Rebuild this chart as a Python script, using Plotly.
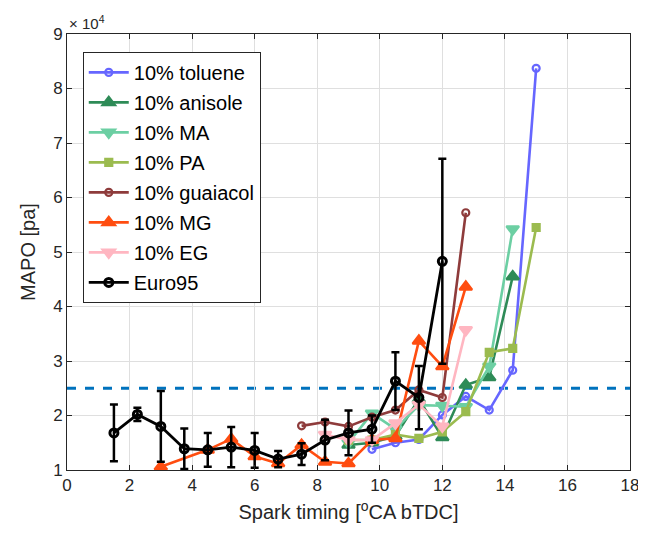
import plotly.graph_objects as go

# Spark timing [°CA bTDC] and MAPO [pa]
tol_x = [9.75, 10.5, 11.25, 12.0, 12.75, 13.5, 14.25, 15.0]
tol_y = [13800, 15000, 15600, 20100, 23500, 21000, 28300, 83700]

ani_x = [9.0, 9.75, 10.5, 11.25, 12.0, 12.75, 13.5, 14.25]
ani_y = [14600, 15000, 16200, 23000, 16000, 25600, 27000, 45500]

ma_x = [9.0, 9.75, 10.5, 11.25, 12.0, 12.75, 13.5, 14.25]
ma_y = [15000, 20400, 17500, 21900, 21800, 21600, 29000, 54200]

pa_x = [9.0, 9.75, 10.5, 11.25, 12.0, 12.75, 13.5, 14.25, 15.0]
pa_y = [15500, 15500, 16500, 15800, 17000, 20700, 31600, 32300, 54500]

gua_x = [7.5, 8.25, 9.0, 9.75, 10.5, 11.25, 12.0, 12.75]
gua_y = [18100, 18800, 18000, 19700, 21000, 24700, 23300, 57200]

mg_x = [3.0, 4.5, 5.25, 6.0, 6.75, 7.5, 8.25, 9.0, 9.75, 10.5, 11.25, 12.0, 12.75]
mg_y = [10600, 13700, 15700, 12500, 11200, 14600, 11500, 11200, 15500, 15800, 33700, 29000, 43600]

eg_x = [8.25, 9.0, 9.75, 10.5, 11.25, 12.0, 12.75]
eg_y = [16500, 15500, 15500, 18600, 22000, 18000, 35700]

e95_x = [1.5, 2.25, 3.0, 3.75, 4.5, 5.25, 6.0, 6.75, 7.5, 8.25, 9.0, 9.75, 10.5, 11.25, 12.0]
e95_y = [16800, 20200, 18000, 13900, 13700, 14200, 13600, 12000, 12900, 15500, 16800, 17500, 26300, 23300, 48300]
e95_err = [5200, 1200, 6500, 3700, 3100, 3700, 3200, 1500, 2000, 3700, 4100, 2500, 5300, 5800, 18800]

THRESHOLD = 25000
x_ticks = [0, 2, 4, 6, 8, 10, 12, 14, 16, 18]
y_tickvals = [10000, 20000, 30000, 40000, 50000, 60000, 70000, 80000, 90000]
y_ticktext = ["1", "2", "3", "4", "5", "6", "7", "8", "9"]

series = [
    ("10% toluene", tol_x, tol_y, "#6666ff", "circle-open", 7),
    ("10% anisole", ani_x, ani_y, "#2e8b57", "triangle-up", 11),
    ("10% MA", ma_x, ma_y, "#6ccfa3", "triangle-down", 11),
    ("10% PA", pa_x, pa_y, "#9bbb4f", "square", 7),
    ("10% guaiacol", gua_x, gua_y, "#8e3b3b", "circle-open", 7),
    ("10% MG", mg_x, mg_y, "#ff4d10", "triangle-up", 11),
    ("10% EG", eg_x, eg_y, "#ffb6c1", "triangle-down", 11),
]

FONT = "Liberation Sans, Arial, sans-serif"

fig = go.Figure()
for i, (name, xs, ys, col, sym, sz) in enumerate(series):
    fig.add_trace(go.Scatter(
        x=xs, y=ys, name=name, mode="lines+markers",
        line=dict(color=col, width=2.6),
        marker=dict(symbol=sym, size=sz, color=col, line=dict(color=col, width=2.2)),
        legendgroup="g%d" % i,
    ))

fig.add_trace(go.Scatter(
    x=e95_x, y=e95_y, name="Euro95", mode="lines+markers",
    line=dict(color="black", width=2.8),
    marker=dict(symbol="circle-open", size=8, color="black", line=dict(color="black", width=3)),
    error_y=dict(type="data", array=e95_err, visible=True, color="black", thickness=2.5, width=4),
    legendgroup="g7",
))

fig.add_shape(type="line", xref="x", yref="y", x0=0, x1=18, y0=THRESHOLD, y1=THRESHOLD,
              line=dict(color="#0072bd", width=3, dash="dash"), layer="below")

axis_common = dict(showline=True, linecolor="#262626", linewidth=1, mirror="allticks",
                   ticks="inside", ticklen=5, tickcolor="#262626", showgrid=True,
                   gridcolor="#dfdfdf", gridwidth=1, zeroline=False,
                   ticklabeloverflow="allow", automargin=False,
                   tickfont=dict(family=FONT, size=17, color="#262626"))

fig.update_layout(
    width=630, height=520,
    margin=dict(l=59, r=8, t=26, b=58),
    paper_bgcolor="white", plot_bgcolor="white",
    font=dict(family=FONT, size=17, color="#262626"),
    xaxis=dict(range=[0, 18], tickvals=x_ticks,
               title=dict(text="Spark timing [<sup>o</sup>CA bTDC]", font=dict(size=20), standoff=10),
               **axis_common),
    yaxis=dict(range=[10000, 90000], tickvals=y_tickvals, ticktext=y_ticktext,
               title=dict(text="MAPO [pa]", font=dict(size=20), standoff=12),
               **axis_common),
    legend=dict(x=0.028, y=0.959, xanchor="left", yanchor="top",
                bgcolor="white", bordercolor="#262626", borderwidth=1,
                font=dict(size=20, color="black"), tracegroupgap=1, itemwidth=40),
    showlegend=True,
)

fig.add_annotation(text="× 10<sup>4</sup>", xref="paper", yref="paper", x=0.0, y=1.0,
                   xanchor="left", yanchor="bottom", showarrow=False,
                   font=dict(size=15, color="#262626"), yshift=0)

fig.write_html("out.html")
